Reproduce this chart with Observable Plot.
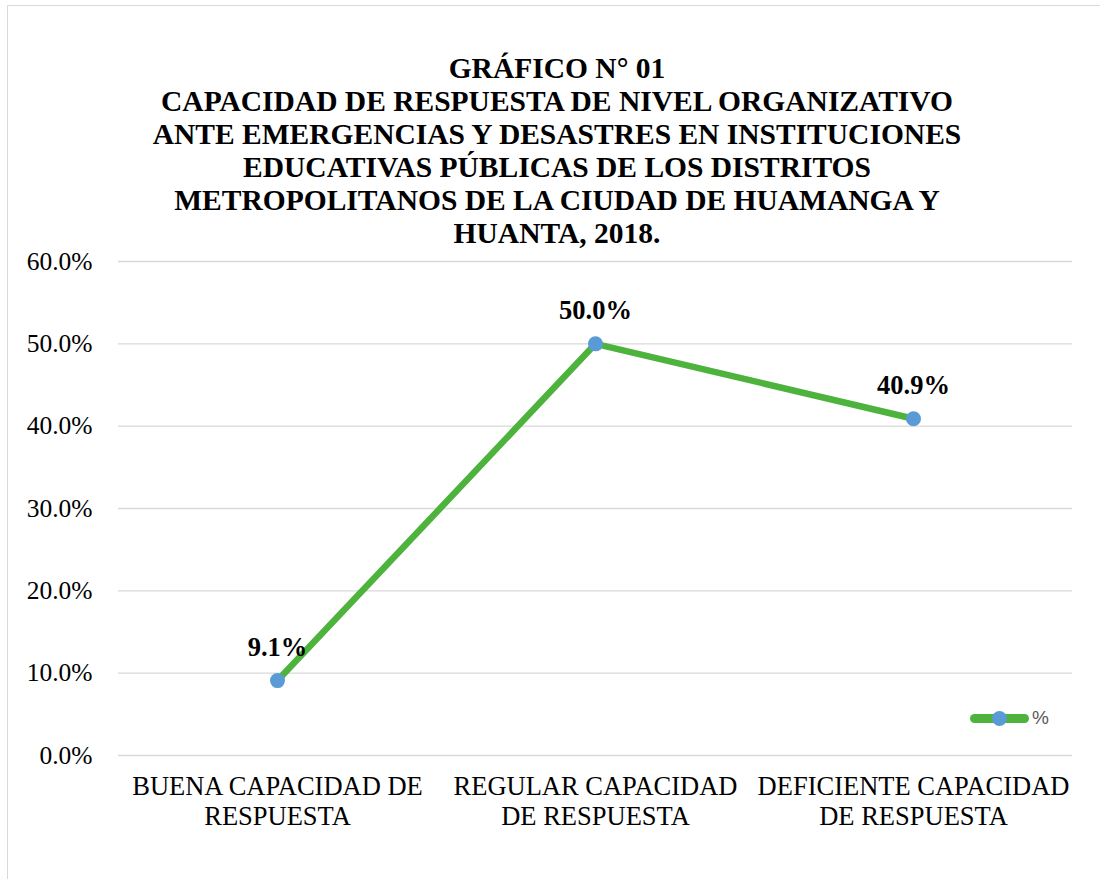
<!DOCTYPE html>
<html>
<head>
<meta charset="utf-8">
<script src="https://cdn.jsdelivr.net/npm/d3@7"></script>
<script src="https://cdn.jsdelivr.net/npm/@observablehq/plot@0.6"></script>
<style>
  html, body { margin: 0; padding: 0; background: #fff; }
  #wrap { position: relative; width: 1100px; height: 879px; overflow: hidden; background: #fff; }
  #frame { position: absolute; left: 7px; top: 5px; width: 1100px; height: 900px; border: 1px solid #d9d9d9; box-sizing: border-box; }
  #title { position: absolute; left: 0; top: 52px; width: 1114px; text-align: center;
    font-family: "Liberation Serif", "Times New Roman", serif; font-weight: bold; font-size: 29.5px; line-height: 33px; color: #000; }
  #chart { position: absolute; left: 0; top: 0; }
  #legend { position: absolute; left: 970px; top: 706px; height: 24px; font-family: "Liberation Sans", Arial, sans-serif; font-size: 19px; color: #595959; }
  #legend .bar { position: absolute; left: 0; top: 8px; width: 59px; height: 9px; border-radius: 5px; }
  #legend .dot { position: absolute; left: 22px; top: 5px; width: 15px; height: 15px; border-radius: 50%; }
  #legend .lab { position: absolute; left: 62px; top: 0px; line-height: 24px; }
</style>
</head>
<body>
<div id="wrap">
  <div id="frame"></div>
  <div id="chart"></div>
  <div id="title">GRÁFICO N° 01<br>CAPACIDAD DE RESPUESTA DE NIVEL ORGANIZATIVO<br>ANTE EMERGENCIAS Y DESASTRES EN INSTITUCIONES<br>EDUCATIVAS PÚBLICAS DE LOS DISTRITOS<br>METROPOLITANOS DE LA CIUDAD DE HUAMANGA Y<br>HUANTA, 2018.</div>
  <div id="legend"><div class="bar"></div><div class="dot"></div><div class="lab">%</div></div>
</div>
<script>
const categories = ["BUENA CAPACIDAD DE\nRESPUESTA", "REGULAR CAPACIDAD\nDE RESPUESTA", "DEFICIENTE CAPACIDAD\nDE RESPUESTA"];
const values = [9.1, 50.0, 40.9];
const yTicks = [0, 10, 20, 30, 40, 50, 60];
const seriesName = "%";

const lineColor = "#4DB33D";
const dotColor = "#5B9BD5";

const data = categories.map((c, i) => ({cat: c, val: values[i]}));

document.querySelector("#legend .bar").style.background = lineColor;
document.querySelector("#legend .dot").style.background = dotColor;
document.querySelector("#legend .lab").textContent = seriesName;

const chart = Plot.plot({
  width: 1100,
  height: 879,
  marginTop: 261,
  marginBottom: 124,
  marginLeft: 118,
  marginRight: 28,
  style: {fontFamily: '"Liberation Serif", "Times New Roman", serif', background: "transparent", color: "#000"},
  x: {type: "point", domain: categories, padding: 0.5},
  y: {domain: [0, 60]},
  marks: [
    Plot.gridY(yTicks, {stroke: "#d9d9d9", strokeOpacity: 1, strokeWidth: 1.3}),
    Plot.axisY(yTicks, {tickSize: 0, tickPadding: 26, fontSize: 25.5, tickFormat: d => d.toFixed(1) + "%", label: null}),
    Plot.axisX({tickSize: 0, tickPadding: 18, fontSize: 26.5, lineHeight: 1.13, label: null}),
    Plot.line(data, {x: "cat", y: "val", stroke: lineColor, strokeWidth: 6.5, strokeLinecap: "round", strokeLinejoin: "round"}),
    Plot.dot(data, {x: "cat", y: "val", r: 7.5, fill: dotColor}),
    Plot.text(data, {x: "cat", y: "val", text: d => d.val.toFixed(1) + "%", dy: -33, fontSize: 26.5, fontWeight: "bold", fill: "#000"})
  ]
});
document.getElementById("chart").appendChild(chart);
</script>
</body>
</html>
